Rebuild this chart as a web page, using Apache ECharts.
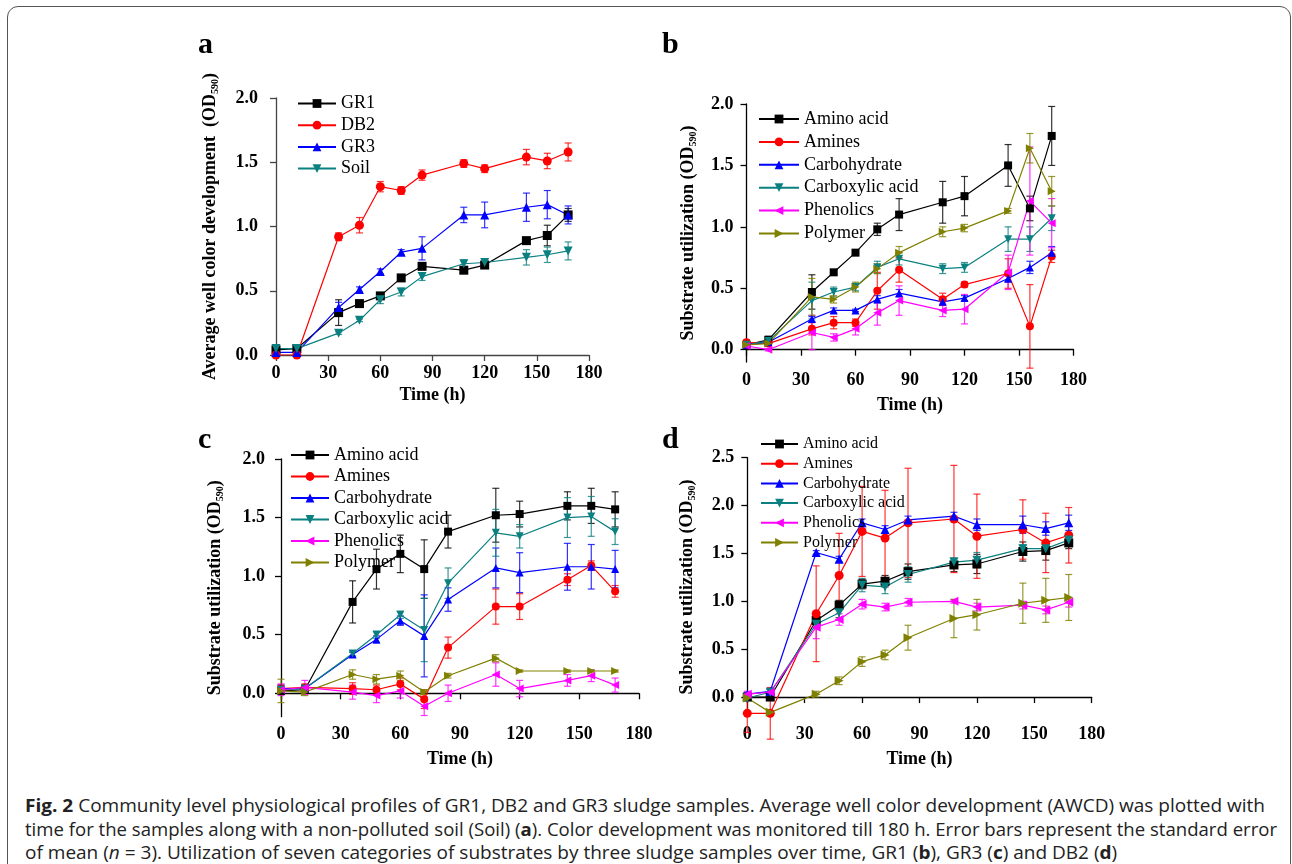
<!DOCTYPE html>
<html>
<head>
<meta charset="utf-8">
<script src="https://cdn.jsdelivr.net/npm/echarts@6/dist/echarts.min.js"></script>
<style>
  body { margin: 0; background: #fff; }
  #frame { position: absolute; left: 7px; top: 6px; width: 1282px; height: 900px; border: 1.5px solid #555; border-radius: 11px; }
  #main { position: absolute; left: 0; top: 0; width: 1292px; height: 780px; }
  .cap { position: absolute; left: 25px; font-family: "Open Sans", sans-serif; font-size: 18px; color: #222; white-space: nowrap; transform-origin: 0 50%; }
</style>
</head>
<body>
<div id="frame"></div>
<div id="main"></div>
<div class="cap" id="cap1" style="top:793px"><b>Fig. 2</b> Community level physiological profiles of GR1, DB2 and GR3 sludge samples. Average well color development (AWCD) was plotted with</div>
<div class="cap" id="cap2" style="top:817px">time for the samples along with a non-polluted soil (Soil) (<b>a</b>). Color development was monitored till 180 h. Error bars represent the standard error</div>
<div class="cap" id="cap3" style="top:840px">of mean (<i>n</i> = 3). Utilization of seven categories of substrates by three sludge samples over time, GR1 (<b>b</b>), GR3 (<b>c</b>) and DB2 (<b>d</b>)</div>
<script>
// sampling times (h)
var T = [0, 12, 36, 48, 60, 72, 84, 108, 120, 144, 156, 168];

// panel a: AWCD
var gr1 = [0.04, 0.05, 0.33, 0.40, 0.46, 0.60, 0.69, 0.66, 0.70, 0.89, 0.93, 1.09];
var gr1Err = [0.01, 0.01, 0.10, 0.02, 0.02, 0.02, 0.02, 0.02, 0.02, 0.02, 0.08, 0.05];
var db2 = [0.00, 0.00, 0.92, 1.01, 1.31, 1.28, 1.40, 1.49, 1.45, 1.54, 1.51, 1.58];
var db2Err = [0.01, 0.01, 0.03, 0.06, 0.04, 0.03, 0.04, 0.03, 0.03, 0.06, 0.06, 0.07];
var gr3 = [0.02, 0.02, 0.37, 0.51, 0.65, 0.80, 0.83, 1.09, 1.09, 1.15, 1.17, 1.09];
var gr3Err = [0.01, 0.01, 0.04, 0.02, 0.02, 0.02, 0.09, 0.06, 0.10, 0.11, 0.11, 0.07];
var soil = [0.05, 0.05, 0.17, 0.27, 0.43, 0.49, 0.61, 0.71, 0.72, 0.76, 0.78, 0.81];
var soilErr = [0.01, 0.01, 0.01, 0.01, 0.03, 0.03, 0.03, 0.03, 0.03, 0.06, 0.06, 0.07];

// panel b: GR1 substrates
var bAmino = [0.04, 0.08, 0.47, 0.63, 0.79, 0.98, 1.10, 1.20, 1.25, 1.50, 1.15, 1.74];
var bAminoErr = [0.02, 0.03, 0.14, 0.02, 0.02, 0.05, 0.13, 0.17, 0.16, 0.17, 0.10, 0.24];
var bAmines = [0.06, 0.05, 0.17, 0.22, 0.22, 0.48, 0.65, 0.41, 0.53, 0.62, 0.19, 0.76];
var bAminesErr = [0.02, 0.02, 0.05, 0.05, 0.03, 0.15, 0.10, 0.05, 0.02, 0.12, 0.34, 0.05];
var bCarbo = [0.04, 0.06, 0.25, 0.32, 0.32, 0.41, 0.46, 0.39, 0.42, 0.58, 0.67, 0.79];
var bCarboErr = [0.01, 0.02, 0.02, 0.02, 0.01, 0.03, 0.03, 0.02, 0.02, 0.03, 0.05, 0.05];
var bCarbox = [0.04, 0.07, 0.40, 0.47, 0.51, 0.67, 0.74, 0.66, 0.67, 0.90, 0.90, 1.07];
var bCarboxErr = [0.01, 0.03, 0.15, 0.04, 0.03, 0.05, 0.05, 0.04, 0.04, 0.10, 0.10, 0.10];
var bPhen = [0.03, 0.00, 0.14, 0.10, 0.17, 0.30, 0.40, 0.32, 0.33, 0.63, 1.21, 1.03];
var bPhenErr = [0.02, 0.01, 0.14, 0.03, 0.05, 0.10, 0.12, 0.05, 0.12, 0.14, 0.44, 0.20];
var bPoly = [0.04, 0.05, 0.43, 0.41, 0.51, 0.66, 0.79, 0.96, 0.99, 1.13, 1.64, 1.29];
var bPolyErr = [0.01, 0.02, 0.15, 0.03, 0.04, 0.04, 0.05, 0.04, 0.03, 0.02, 0.12, 0.12];

// panel c: GR3 substrates
var cAmino = [0.02, 0.03, 0.78, 1.06, 1.19, 1.06, 1.38, 1.52, 1.53, 1.60, 1.60, 1.57];
var cAminoErr = [0.02, 0.03, 0.18, 0.17, 0.16, 0.25, 0.14, 0.23, 0.11, 0.12, 0.15, 0.15];
var cAmines = [0.04, 0.05, 0.04, 0.03, 0.08, -0.05, 0.39, 0.74, 0.74, 0.97, 1.09, 0.87];
var cAminesErr = [0.03, 0.03, 0.05, 0.04, 0.05, 0.08, 0.09, 0.15, 0.11, 0.05, 0.04, 0.05];
var cCarbo = [0.04, 0.04, 0.33, 0.46, 0.62, 0.49, 0.80, 1.07, 1.03, 1.08, 1.08, 1.06];
var cCarboErr = [0.03, 0.03, 0.02, 0.03, 0.04, 0.35, 0.10, 0.17, 0.17, 0.20, 0.19, 0.16];
var cCarbox = [0.03, 0.04, 0.34, 0.50, 0.67, 0.54, 0.94, 1.37, 1.34, 1.50, 1.51, 1.38];
var cCarboxErr = [0.03, 0.03, 0.02, 0.03, 0.03, 0.27, 0.13, 0.20, 0.10, 0.17, 0.17, 0.11];
var cPhen = [0.03, 0.05, 0.01, -0.02, 0.02, -0.11, 0.00, 0.16, 0.04, 0.11, 0.15, 0.07];
var cPhenErr = [0.05, 0.06, 0.06, 0.06, 0.06, 0.08, 0.07, 0.10, 0.07, 0.05, 0.05, 0.06];
var cPoly = [0.02, 0.01, 0.16, 0.12, 0.15, 0.01, 0.15, 0.30, 0.19, 0.19, 0.19, 0.19];
var cPolyErr = [0.10, 0.03, 0.04, 0.04, 0.04, 0.02, 0.02, 0.03, 0.01, 0.01, 0.01, 0.01];

// panel d: DB2 substrates
var dAmino = [0.00, 0.00, 0.80, 0.96, 1.18, 1.21, 1.31, 1.38, 1.39, 1.52, 1.53, 1.61];
var dAminoErr = [0.02, 0.02, 0.04, 0.05, 0.05, 0.06, 0.08, 0.07, 0.10, 0.10, 0.10, 0.06];
var dAmines = [-0.17, -0.17, 0.87, 1.27, 1.73, 1.66, 1.82, 1.86, 1.68, 1.75, 1.61, 1.69];
var dAminesErr = [0.20, 0.27, 0.50, 0.44, 0.47, 0.50, 0.57, 0.56, 0.44, 0.31, 0.31, 0.29];
var dCarbo = [0.03, 0.06, 1.51, 1.44, 1.82, 1.75, 1.85, 1.89, 1.80, 1.80, 1.76, 1.82];
var dCarboErr = [0.02, 0.02, 0.02, 0.03, 0.04, 0.04, 0.04, 0.04, 0.06, 0.09, 0.07, 0.08];
var dCarbox = [-0.01, 0.05, 0.76, 0.88, 1.17, 1.15, 1.28, 1.41, 1.43, 1.55, 1.55, 1.64];
var dCarboxErr = [0.02, 0.03, 0.04, 0.05, 0.07, 0.07, 0.08, 0.04, 0.08, 0.04, 0.06, 0.06];
var dPhen = [0.03, 0.05, 0.73, 0.81, 0.97, 0.94, 0.99, 1.00, 0.94, 0.96, 0.91, 0.99];
var dPhenErr = [0.03, 0.03, 0.12, 0.06, 0.05, 0.04, 0.04, 0.02, 0.04, 0.04, 0.04, 0.05];
var dPoly = [-0.01, -0.16, 0.03, 0.17, 0.37, 0.44, 0.62, 0.82, 0.86, 0.98, 1.01, 1.04];
var dPolyErr = [0.02, 0.01, 0.03, 0.04, 0.05, 0.05, 0.13, 0.20, 0.16, 0.21, 0.23, 0.24];

var sampleNames = ['GR1', 'DB2', 'GR3', 'Soil'];
var subNames = ['Amino acid', 'Amines', 'Carbohydrate', 'Carboxylic acid', 'Phenolics', 'Polymer'];

var colorsA = ['#000000', '#ff0000', '#0000ff', '#0b8080'];
var symA = ['rect', 'circle', 'triangle', 'triangle'];
var rotA = [0, 0, 0, 180];
var colorsS = ['#000000', '#ff0000', '#0000ff', '#0b8080', '#ff00ff', '#808000'];
var symS = ['rect', 'circle', 'triangle', 'triangle', 'triangle', 'triangle'];
var rotS = [0, 0, 0, 180, 90, -90];

var SERIF = '"Liberation Serif", "Times New Roman", serif';

var series = [];

function addPanel(gi, names, vals, errs, colors, syms, rots, size) {
  for (var k = 0; k < names.length; k++) {
    var v = vals[k], e = errs[k], col = colors[k];
    series.push({
      type: 'custom',
      name: names[k] + ' err',
      xAxisIndex: gi, yAxisIndex: gi,
      silent: true, z: 2,
      data: T.map(function (t, i) { return [t, v[i] - e[i], v[i] + e[i]]; }),
      encode: { x: 0, y: [1, 2] },
      renderItem: (function (c) {
        return function (params, api) {
          var lo = api.coord([api.value(0), api.value(1)]);
          var hi = api.coord([api.value(0), api.value(2)]);
          var w = 3.5;
          var st = { stroke: c, lineWidth: 1.2, opacity: 0.8 };
          return {
            type: 'group',
            children: [
              { type: 'line', shape: { x1: lo[0], y1: lo[1], x2: hi[0], y2: hi[1] }, style: st },
              { type: 'line', shape: { x1: lo[0] - w, y1: lo[1], x2: lo[0] + w, y2: lo[1] }, style: st },
              { type: 'line', shape: { x1: hi[0] - w, y1: hi[1], x2: hi[0] + w, y2: hi[1] }, style: st }
            ]
          };
        };
      })(col)
    });
  }
  for (var j = 0; j < names.length; j++) {
    series.push({
      type: 'line',
      name: names[j],
      xAxisIndex: gi, yAxisIndex: gi,
      data: T.map(function (t, i) { return [t, vals[j][i]]; }),
      symbol: syms[j],
      symbolRotate: rots[j],
      symbolSize: size,
      showAllSymbol: true,
      z: 3,
      itemStyle: { color: colors[j], opacity: 1 },
      lineStyle: { color: colors[j], width: 1.2 }
    });
  }
}

addPanel(0, sampleNames, [gr1, db2, gr3, soil], [gr1Err, db2Err, gr3Err, soilErr], colorsA, symA, rotA, 9);
addPanel(1, subNames, [bAmino, bAmines, bCarbo, bCarbox, bPhen, bPoly],
  [bAminoErr, bAminesErr, bCarboErr, bCarboxErr, bPhenErr, bPolyErr], colorsS, symS, rotS, 8);
addPanel(2, subNames, [cAmino, cAmines, cCarbo, cCarbox, cPhen, cPoly],
  [cAminoErr, cAminesErr, cCarboErr, cCarboxErr, cPhenErr, cPolyErr], colorsS, symS, rotS, 8);
addPanel(3, subNames, [dAmino, dAmines, dCarbo, dCarbox, dPhen, dPoly],
  [dAminoErr, dAminesErr, dCarboErr, dCarboxErr, dPhenErr, dPolyErr], colorsS, symS, rotS, 9);

function xAx(gi, col, gap) {
  return {
    type: 'value', gridIndex: gi, min: 0, max: 180, interval: 30,
    name: 'Time (h)', nameLocation: 'middle', nameGap: gap,
    nameTextStyle: { fontFamily: SERIF, fontWeight: 'bold', fontSize: 18, color: '#000' },
    axisLine: { lineStyle: { color: col, width: 1.3 } },
    axisTick: { length: 6, lineStyle: { color: col, width: 1.3 } },
    axisLabel: { margin: 9, fontFamily: SERIF, fontWeight: 'bold', fontSize: 18, color: '#000' },
    splitLine: { show: false }
  };
}

function yAx(gi, col, min, max, ticks, name, gap, margin) {
  return {
    type: 'value', gridIndex: gi, min: min, max: max,
    name: name, nameLocation: 'middle', nameRotate: 90, nameGap: gap,
    nameTextStyle: {
      fontFamily: SERIF, fontWeight: 'bold', fontSize: 18, color: '#000', lineHeight: 20,
      rich: { sub: { fontFamily: SERIF, fontWeight: 'bold', fontSize: 10, lineHeight: 20, verticalAlign: 'bottom', color: '#000' } }
    },
    axisLine: { show: true, lineStyle: { color: col, width: 1.3 } },
    axisTick: { show: true, length: 6, customValues: ticks, lineStyle: { color: col, width: 1.3 } },
    axisLabel: {
      margin: margin, customValues: ticks, fontFamily: SERIF, fontWeight: 'bold', fontSize: 18, color: '#000',
      formatter: function (v) { return v.toFixed(1); }
    },
    splitLine: { show: false }
  };
}

function legendAt(names, left, top, width, gap, fs) {
  return {
    data: names, orient: 'vertical', left: left, top: top,
    itemWidth: width, itemHeight: 11, itemGap: gap, selectedMode: false,
    textStyle: { fontFamily: SERIF, fontSize: fs, lineHeight: fs, color: '#000' }
  };
}

var yTicks2 = [0, 0.5, 1.0, 1.5, 2.0];
var yTicks25 = [0, 0.5, 1.0, 1.5, 2.0, 2.5];

var option = {
  animation: false,
  grid: [
    { left: 276, top: 98, width: 313, height: 257, outerBoundsMode: 'none' },
    { left: 746.5, top: 104, width: 327, height: 258, outerBoundsMode: 'none' },
    { left: 281, top: 459, width: 358, height: 257.7, outerBoundsMode: 'none' },
    { left: 747.3, top: 457.7, width: 344.4, height: 258.5, outerBoundsMode: 'none' }
  ],
  xAxis: [xAx(0, '#444', 31), xAx(1, '#000', 34), xAx(2, '#000', 34), xAx(3, '#000', 34)],
  yAxis: [
    yAx(0, '#444', 0, 2, yTicks2, 'Average well color development  (OD{sub|590})', 56, 18),
    yAx(1, '#000', -0.1, 2, yTicks2, 'Substrate utilization (OD{sub|590})', 48, 13),
    yAx(2, '#000', -0.2, 2, yTicks2, 'Substrate utilization (OD{sub|590})', 56, 16),
    yAx(3, '#000', -0.2, 2.5, yTicks25, 'Substrate utilization (OD{sub|590})', 50, 13)
  ],
  legend: [
    legendAt(sampleNames, 292, 89.5, 38, 3.7, 18),
    legendAt(subNames, 753, 105, 40, 4.9, 18),
    legendAt(subNames, 285, 441, 38, 3.5, 18),
    legendAt(subNames, 755, 431, 37, 3.7, 16)
  ],
  graphic: [
    { type: 'text', left: 198, top: 30, style: { text: 'a', font: 'bold 30px ' + SERIF, fill: '#000' } },
    { type: 'text', left: 662, top: 30, style: { text: 'b', font: 'bold 30px ' + SERIF, fill: '#000' } },
    { type: 'text', left: 198, top: 425, style: { text: 'c', font: 'bold 30px ' + SERIF, fill: '#000' } },
    { type: 'text', left: 662, top: 425, style: { text: 'd', font: 'bold 30px ' + SERIF, fill: '#000' } }
  ],
  series: series
};

var myChart = echarts.init(document.getElementById('main'));
option && myChart.setOption(option);

// squeeze the caption lines to the printed widths; the short last line keeps the first line's factor
var k1 = 1240 / document.getElementById('cap1').getBoundingClientRect().width;
var k2 = 1252 / document.getElementById('cap2').getBoundingClientRect().width;
document.getElementById('cap1').style.transform = 'scaleX(' + k1 + ')';
document.getElementById('cap2').style.transform = 'scaleX(' + k2 + ')';
document.getElementById('cap3').style.transform = 'scaleX(' + k1 + ')';
</script>
</body>
</html>
